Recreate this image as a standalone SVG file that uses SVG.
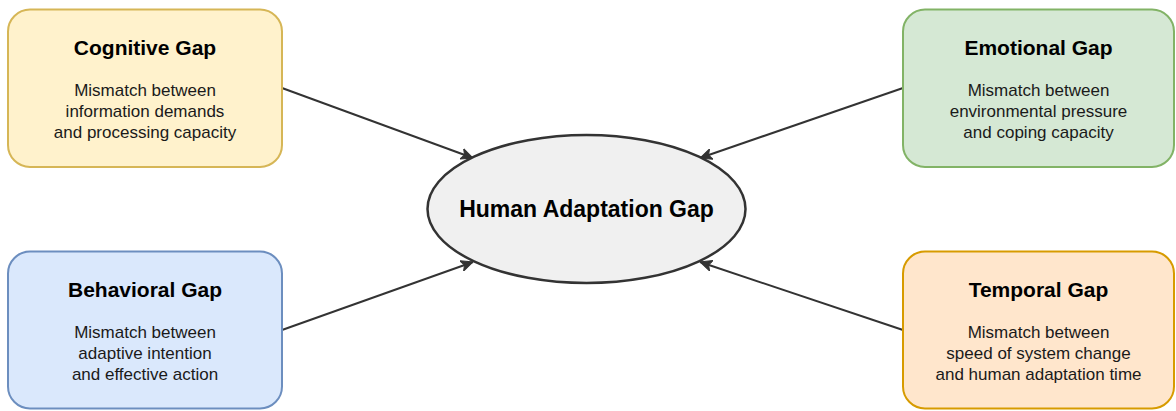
<svg xmlns="http://www.w3.org/2000/svg" width="1176" height="411" viewBox="0 0 1176 411">
<style>
.box{stroke-width:2}
.t{font-family:"Liberation Sans",Arial,sans-serif;font-weight:bold;font-size:21px;fill:#000;text-anchor:middle}
.b{font-family:"Liberation Sans",Arial,sans-serif;font-size:17px;fill:#1a1a1a;text-anchor:middle}
.c{font-family:"Liberation Sans",Arial,sans-serif;font-weight:bold;font-size:23px;fill:#000;text-anchor:middle}
.edge{stroke:#333;stroke-width:2;fill:none;marker-end:url(#arr)}
</style>
<defs>
<marker id="arr" viewBox="0 0 12 12" refX="12" refY="6" markerWidth="12" markerHeight="12" markerUnits="userSpaceOnUse" orient="auto">
<path d="M0,0.5 L12,6 L0,11.5 L3,6 Z" fill="#333" stroke="#333" stroke-width="1"/>
</marker>
</defs>
<rect width="1176" height="411" fill="#fff"/>
<g id="connectors">
<line class="edge" x1="282" y1="88" x2="473" y2="158"/>
<line class="edge" x1="903" y1="88" x2="700" y2="158"/>
<line class="edge" x1="282" y1="330" x2="473" y2="262"/>
<line class="edge" x1="903" y1="330" x2="700" y2="262"/>
</g>
<g id="center">
<ellipse cx="586.5" cy="209" rx="159" ry="74" fill="#f0f0f0" stroke="#333" stroke-width="2.5"/>
<text class="c" x="586.5" y="216.5">Human Adaptation Gap</text>
</g>
<g id="cognitive">
<rect class="box" x="8" y="9.5" width="274" height="157.5" rx="22" fill="#fff2cc" stroke="#d6b656"/>
<text class="t" x="145" y="54.5">Cognitive Gap</text>
<text class="b" x="145" y="95.5">Mismatch between</text>
<text class="b" x="145" y="116.5">information demands</text>
<text class="b" x="145" y="137.5">and processing capacity</text>
</g>
<g id="emotional">
<rect class="box" x="903" y="9.5" width="271" height="157.5" rx="22" fill="#d5e8d4" stroke="#82b366"/>
<text class="t" x="1038.5" y="54.5">Emotional Gap</text>
<text class="b" x="1038.5" y="95.5">Mismatch between</text>
<text class="b" x="1038.5" y="116.5">environmental pressure</text>
<text class="b" x="1038.5" y="137.5">and coping capacity</text>
</g>
<g id="behavioral">
<rect class="box" x="8" y="251.5" width="274" height="157" rx="22" fill="#dae8fc" stroke="#6c8ebf"/>
<text class="t" x="145" y="296.5">Behavioral Gap</text>
<text class="b" x="145" y="337.5">Mismatch between</text>
<text class="b" x="145" y="358.5">adaptive intention</text>
<text class="b" x="145" y="379.5">and effective action</text>
</g>
<g id="temporal">
<rect class="box" x="903" y="251.5" width="271" height="157" rx="22" fill="#ffe6cc" stroke="#d79b00"/>
<text class="t" x="1038.5" y="296.5">Temporal Gap</text>
<text class="b" x="1038.5" y="337.5">Mismatch between</text>
<text class="b" x="1038.5" y="358.5">speed of system change</text>
<text class="b" x="1038.5" y="379.5">and human adaptation time</text>
</g>
</svg>
